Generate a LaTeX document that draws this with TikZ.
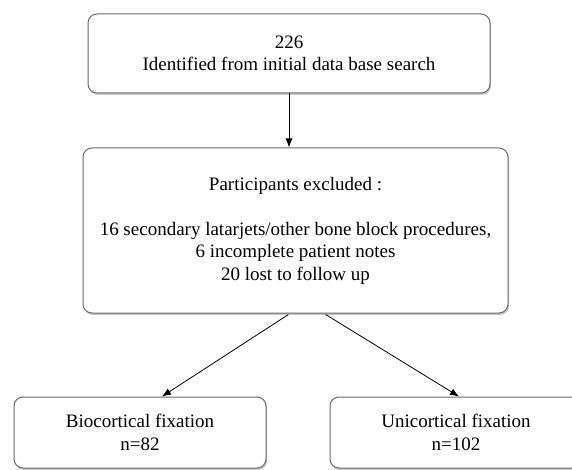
\documentclass[tikz,border=0pt]{standalone}
\usepackage{fontspec}
\setmainfont{Liberation Serif}
\usetikzlibrary{arrows.meta,shadows}
\begin{document}
\begin{tikzpicture}[x=1pt,y=-1pt,
  box/.style={draw=black!58, line width=1pt, rounded corners=9pt, fill=white,
    align=center, inner sep=0pt, font=\fontsize{19}{22.5}\selectfont,
    drop shadow={shadow xshift=1pt, shadow yshift=-2pt, fill=black!45, opacity=0.5}},
  arr/.style={draw=black, line width=0.8pt, -{Latex[length=9pt,width=7pt]}}]
\useasboundingbox (0,0) rectangle (572,470);
\clip (0,0) rectangle (572,470);
\node[box, minimum width=402pt, minimum height=79pt] (top) at (289,53.5)
  {226\\Identified from initial data base search};
\node[box, minimum width=425pt, minimum height=165pt] (mid) at (295.5,230.5)
  {Participants excluded :\\[22.5pt]16 secondary latarjets/other bone block procedures,\\6 incomplete patient notes\\20 lost to follow up};
\node[box, minimum width=252pt, minimum height=71pt] (lb) at (140,432.5)
  {Biocortical fixation\\n=82};
\node[box, minimum width=252pt, minimum height=71pt] (rb) at (456,432.5)
  {Unicortical fixation\\n=102};
\draw[arr] (top.south) -- (top.south |- mid.north);
\draw[arr, shorten <=2pt] ([xshift=-5.5pt]mid.south) -- ([xshift=22pt]lb.north);
\draw[arr, shorten <=2pt] ([xshift=28.5pt]mid.south) -- ([xshift=3pt]rb.north);
\end{tikzpicture}
\end{document}
